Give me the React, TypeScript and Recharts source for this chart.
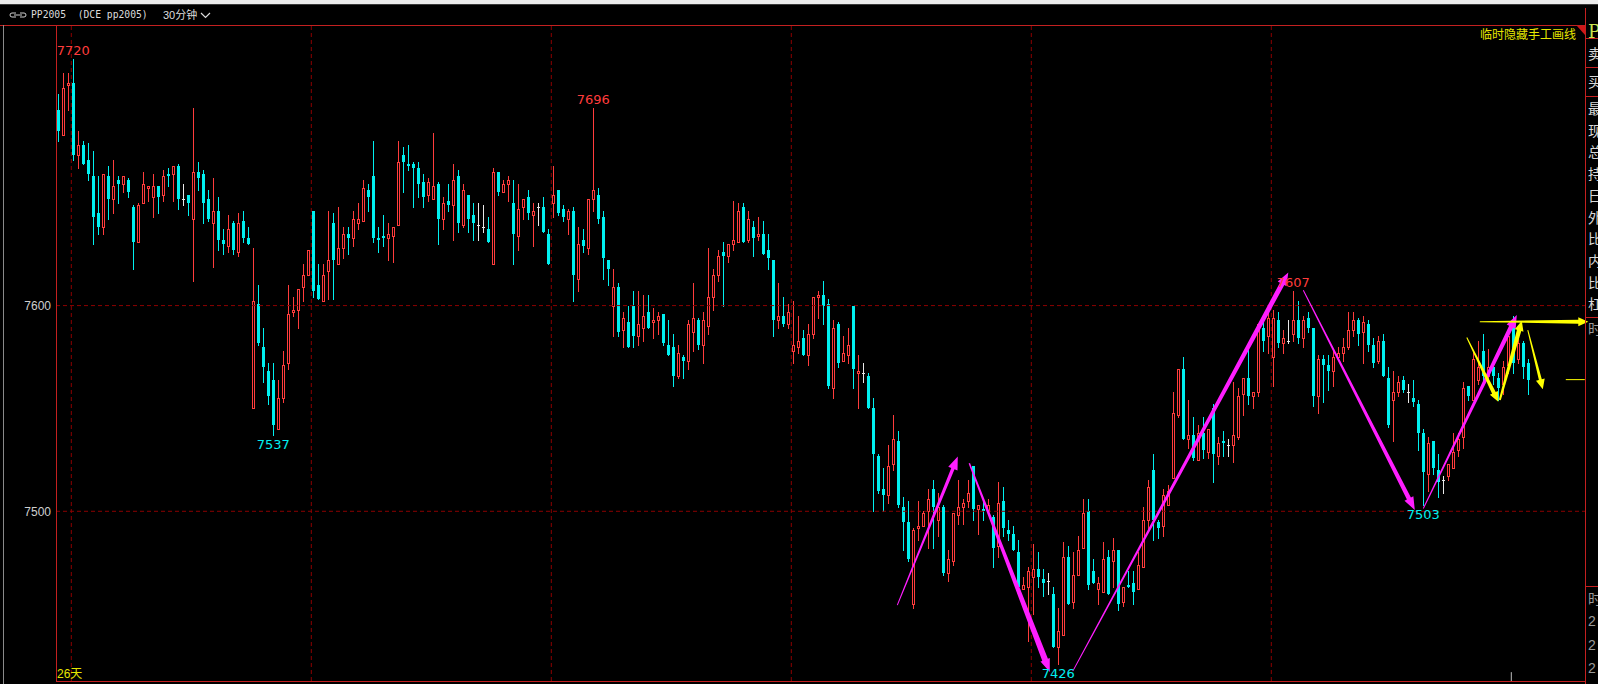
import React from 'react';
import { ComposedChart, Bar, XAxis, YAxis, ReferenceLine, ReferenceDot } from 'recharts';

// PP2005 30-minute bars (oldest first)
const opens = [
  7695, 7683, 7707, 7708, 7673, 7678, 7671, 7663, 7645, 7638,
  7663, 7652, 7661, 7659, 7661, 7648, 7631, 7650, 7657, 7653,
  7658, 7654, 7664, 7664, 7668, 7652, 7654, 7642, 7665, 7664,
  7652, 7640, 7646, 7632, 7629, 7640, 7626, 7641, 7633, 7550,
  7601, 7580, 7568, 7564, 7540, 7555, 7572, 7597, 7598, 7609,
  7615, 7646, 7610, 7602, 7617, 7640, 7620, 7628, 7635, 7633,
  7640, 7641, 7656, 7663, 7633, 7634, 7633, 7634, 7639, 7673,
  7669, 7669, 7667, 7660, 7654, 7652, 7659, 7642, 7651, 7649,
  7663, 7639, 7654, 7644, 7639, 7638, 7637, 7620, 7665, 7655,
  7659, 7650, 7634, 7648, 7653, 7644, 7648, 7648, 7635, 7650,
  7656, 7647, 7642, 7646, 7613, 7632, 7628, 7652, 7654, 7643,
  7622, 7600, 7609, 7588, 7592, 7600, 7585, 7589, 7597, 7592,
  7593, 7596, 7581, 7580, 7566, 7575, 7573, 7587, 7593, 7581,
  7590, 7604, 7615, 7626, 7624, 7630, 7631, 7648, 7632, 7638,
  7634, 7635, 7627, 7622, 7593, 7595, 7591, 7578, 7580, 7584,
  7576, 7586, 7604, 7605, 7601, 7560, 7591, 7573, 7576, 7600,
  7567, 7567, 7566, 7550, 7527, 7511, 7508, 7523, 7534, 7502,
  7495, 7455, 7492, 7493, 7500, 7511, 7496, 7502, 7470, 7476,
  7498, 7502, 7505, 7522, 7501, 7501, 7500, 7497, 7483, 7505,
  7491, 7489, 7480, 7462, 7463, 7468, 7472, 7467, 7466, 7460,
  7434, 7440, 7478, 7456, 7469, 7482, 7500, 7471, 7462, 7461,
  7478, 7476, 7481, 7456, 7464, 7465, 7462, 7473, 7496, 7520,
  7495, 7493, 7503, 7516, 7547, 7569, 7535, 7537, 7525, 7538,
  7529, 7550, 7527, 7534, 7532, 7532, 7536, 7557, 7565, 7556,
  7558, 7589, 7585, 7575, 7593, 7582, 7583, 7586, 7593, 7584,
  7594, 7589, 7556, 7574, 7571, 7568, 7575, 7577, 7580, 7588,
  7593, 7587, 7591, 7581, 7573, 7583, 7565, 7554, 7558, 7564,
  7558, 7555, 7552, 7538, 7518, 7534, 7520, 7515, 7517, 7521,
  7530, 7536, 7561, 7554, 7564, 7578, 7566, 7570, 7565, 7562,
  7571, 7591, 7574, 7582, 7572,
];

const highs = [
  7703, 7713, 7713, 7720, 7685, 7680, 7679, 7675, 7663, 7664,
  7668, 7671, 7663, 7663, 7662, 7649, 7650, 7665, 7658, 7664,
  7658, 7666, 7667, 7668, 7669, 7659, 7654, 7696, 7670, 7666,
  7656, 7662, 7653, 7637, 7644, 7641, 7645, 7646, 7638, 7628,
  7610, 7589, 7572, 7572, 7564, 7578, 7610, 7604, 7608, 7620,
  7627, 7646, 7620, 7620, 7646, 7645, 7648, 7638, 7638, 7646,
  7650, 7661, 7659, 7680, 7638, 7644, 7640, 7638, 7680, 7677,
  7678, 7670, 7670, 7664, 7662, 7684, 7660, 7653, 7659, 7669,
  7666, 7659, 7654, 7650, 7650, 7649, 7643, 7667, 7665, 7661,
  7663, 7661, 7659, 7652, 7656, 7650, 7650, 7653, 7637, 7668,
  7656, 7649, 7647, 7648, 7638, 7637, 7652, 7696, 7657, 7646,
  7622, 7618, 7611, 7597, 7600, 7607, 7607, 7605, 7605, 7599,
  7597, 7596, 7593, 7586, 7581, 7576, 7593, 7611, 7594, 7597,
  7628, 7618, 7627, 7631, 7630, 7651, 7650, 7650, 7646, 7641,
  7643, 7641, 7635, 7622, 7611, 7604, 7601, 7602, 7595, 7588,
  7591, 7604, 7607, 7612, 7603, 7593, 7592, 7585, 7589, 7600,
  7576, 7572, 7567, 7555, 7528, 7521, 7532, 7547, 7539, 7507,
  7505, 7492, 7505, 7500, 7511, 7515, 7509, 7503, 7481, 7499,
  7515, 7506, 7515, 7522, 7503, 7506, 7506, 7498, 7514, 7512,
  7496, 7493, 7486, 7468, 7473, 7484, 7480, 7472, 7470, 7463,
  7453, 7485, 7483, 7480, 7488, 7506, 7506, 7477, 7468, 7485,
  7481, 7487, 7481, 7463, 7471, 7471, 7480, 7502, 7515, 7528,
  7496, 7511, 7513, 7558, 7569, 7575, 7554, 7546, 7542, 7546,
  7540, 7552, 7536, 7539, 7535, 7563, 7560, 7565, 7579, 7558,
  7591, 7593, 7597, 7598, 7597, 7588, 7593, 7607, 7602, 7595,
  7597, 7589, 7576, 7576, 7576, 7579, 7580, 7584, 7597, 7597,
  7594, 7595, 7593, 7584, 7585, 7586, 7570, 7568, 7566, 7566,
  7562, 7564, 7554, 7540, 7536, 7534, 7528, 7517, 7523, 7538,
  7538, 7563, 7561, 7578, 7583, 7586, 7579, 7572, 7567, 7573,
  7588, 7595, 7587, 7583, 7574,
];

const lows = [
  7680, 7683, 7695, 7671, 7667, 7669, 7661, 7630, 7635, 7635,
  7642, 7645, 7650, 7655, 7653, 7618, 7631, 7650, 7651, 7643,
  7645, 7651, 7658, 7651, 7647, 7649, 7644, 7612, 7656, 7640,
  7641, 7619, 7627, 7625, 7626, 7625, 7624, 7631, 7630, 7550,
  7581, 7563, 7552, 7537, 7540, 7553, 7569, 7595, 7589, 7602,
  7615, 7604, 7603, 7602, 7603, 7603, 7620, 7623, 7625, 7629,
  7637, 7641, 7646, 7631, 7626, 7629, 7622, 7621, 7639, 7655,
  7666, 7648, 7653, 7648, 7651, 7652, 7630, 7637, 7646, 7632,
  7636, 7638, 7636, 7632, 7632, 7636, 7631, 7620, 7654, 7655,
  7651, 7620, 7627, 7642, 7642, 7629, 7639, 7636, 7620, 7643,
  7644, 7641, 7635, 7602, 7607, 7626, 7625, 7646, 7640, 7613,
  7610, 7585, 7585, 7580, 7580, 7580, 7581, 7583, 7589, 7584,
  7586, 7581, 7576, 7561, 7565, 7565, 7569, 7578, 7579, 7572,
  7586, 7598, 7612, 7600, 7621, 7627, 7631, 7631, 7631, 7624,
  7632, 7625, 7618, 7585, 7589, 7590, 7589, 7572, 7577, 7576,
  7571, 7584, 7594, 7591, 7560, 7555, 7570, 7573, 7572, 7560,
  7550, 7563, 7550, 7500, 7509, 7500, 7504, 7520, 7502, 7481,
  7476, 7453, 7486, 7493, 7482, 7482, 7488, 7469, 7466, 7474,
  7494, 7494, 7502, 7496, 7489, 7496, 7500, 7473, 7478, 7488,
  7486, 7481, 7463, 7462, 7437, 7450, 7463, 7459, 7460, 7434,
  7426, 7440, 7455, 7453, 7469, 7482, 7462, 7465, 7455, 7461,
  7460, 7463, 7452, 7454, 7463, 7455, 7462, 7473, 7491, 7486,
  7487, 7488, 7503, 7516, 7546, 7535, 7531, 7525, 7525, 7526,
  7526, 7514, 7523, 7527, 7527, 7524, 7535, 7547, 7552, 7550,
  7556, 7578, 7577, 7561, 7580, 7577, 7582, 7583, 7582, 7580,
  7587, 7551, 7548, 7553, 7559, 7561, 7575, 7573, 7579, 7585,
  7581, 7572, 7578, 7570, 7572, 7566, 7541, 7534, 7556, 7558,
  7553, 7551, 7530, 7503, 7510, 7518, 7507, 7509, 7515, 7521,
  7527, 7531, 7554, 7554, 7562, 7564, 7563, 7562, 7554, 7557,
  7567, 7567, 7572, 7565, 7557,
];

const closes = [
  7685, 7706, 7708, 7673, 7678, 7669, 7664, 7643, 7638, 7664,
  7652, 7658, 7659, 7663, 7655, 7631, 7649, 7659, 7658, 7658,
  7653, 7663, 7663, 7668, 7652, 7652, 7650, 7665, 7662, 7650,
  7642, 7646, 7632, 7630, 7637, 7627, 7640, 7633, 7630, 7602,
  7582, 7570, 7556, 7542, 7555, 7571, 7596, 7598, 7608, 7615,
  7627, 7607, 7603, 7615, 7622, 7622, 7628, 7635, 7633, 7642,
  7642, 7657, 7653, 7633, 7632, 7633, 7635, 7638, 7670, 7670,
  7668, 7667, 7659, 7653, 7660, 7658, 7642, 7650, 7649, 7661,
  7640, 7656, 7642, 7640, 7639, 7638, 7631, 7665, 7655, 7659,
  7661, 7635, 7647, 7652, 7645, 7646, 7648, 7636, 7620, 7654,
  7645, 7643, 7646, 7615, 7630, 7629, 7652, 7656, 7642, 7623,
  7618, 7609, 7587, 7594, 7580, 7585, 7591, 7595, 7589, 7593,
  7595, 7582, 7576, 7566, 7577, 7573, 7591, 7594, 7581, 7593,
  7604, 7615, 7624, 7624, 7630, 7632, 7646, 7631, 7642, 7633,
  7635, 7625, 7623, 7593, 7595, 7591, 7597, 7581, 7583, 7576,
  7586, 7604, 7605, 7600, 7561, 7589, 7572, 7577, 7581, 7569,
  7568, 7567, 7550, 7528, 7510, 7508, 7522, 7535, 7503, 7495,
  7477, 7491, 7493, 7499, 7506, 7502, 7502, 7470, 7477, 7499,
  7502, 7504, 7509, 7501, 7503, 7500, 7503, 7482, 7504, 7492,
  7489, 7481, 7463, 7464, 7471, 7472, 7468, 7465, 7466, 7434,
  7442, 7478, 7455, 7469, 7481, 7499, 7464, 7465, 7465, 7477,
  7460, 7481, 7455, 7463, 7463, 7461, 7474, 7496, 7512, 7496,
  7492, 7508, 7510, 7548, 7569, 7535, 7537, 7526, 7538, 7530,
  7540, 7528, 7533, 7533, 7532, 7537, 7556, 7565, 7556, 7558,
  7591, 7583, 7594, 7594, 7582, 7584, 7583, 7593, 7584, 7593,
  7589, 7556, 7574, 7571, 7568, 7575, 7577, 7580, 7588, 7593,
  7586, 7592, 7581, 7572, 7583, 7566, 7542, 7558, 7563, 7559,
  7558, 7553, 7538, 7519, 7533, 7521, 7514, 7515, 7523, 7529,
  7535, 7560, 7556, 7574, 7570, 7566, 7570, 7566, 7560, 7570,
  7585, 7572, 7582, 7570, 7564,
];

const priceTicks = [7500, 7600];
// session boundaries, in bar-index units
const dayBreaks = [2.6, 50.6, 98.6, 146.6, 194.6, 242.6];
const currentDayTick = 290.6;

// bars whose high / low got a price tag on the chart
const highTags = [3, 107, 247];
const lowTags = [43, 200, 273];

// hand-drawn arrows: [barIndex, price] -> [barIndex, price]
const magentaArrows = [
  [[167.8, 7454.4], [179.9, 7526.6]],
  [[182.2, 7523.4], [198.3, 7421.9]],
  [[202.9, 7422.3], [246.0, 7616.1]],
  [[249.0, 7607.5], [271.3, 7500.6]],
  [[273.0, 7501.4], [291.7, 7595.4]],
];
const yellowArrows = [
  [[281.7, 7584.5], [288.0, 7553.2]],
  [[288.3, 7554.1], [292.7, 7592.6]],
  [[293.9, 7588.1], [296.9, 7559.3]],
  [[284.3, 7592.2], [306.0, 7592.2]],
];
const magentaWidths = [[1, 3.5], [1.5, 6], [1, 5], [1, 4.5], [1, 4.5]];
const yellowWidths = [[1, 4], [2, 4.5], [1, 3], [1, 4]];

const UP = '#ff3c3c';
const DOWN = '#00f0f0';
const DOJI = '#e8e8e8';
const FRAME = '#c42020';
const GRID = '#8c0000';
const MAGENTA = '#ff1eff';
const YELLOW = '#ffff00';

const data = opens.map((o, i) => ({ i, o, h: highs[i], l: lows[i], c: closes[i] }));

function Candle(props: any) {
  const { x, y, width, height, payload } = props;
  if (!payload || x == null) return null;
  const { o, h, l, c } = payload;
  const top0 = Math.min(y, y + height);
  const span = Math.abs(height);
  const k = h > l ? span / (h - l) : 0;
  const yOf = (v: number) => top0 + (h - v) * k;
  const cx = Math.floor(x + width / 2);
  const yh = Math.round(top0);
  const yl = Math.round(top0 + span);
  const bTop = Math.round(yOf(Math.max(o, c)));
  const bBot = Math.round(yOf(Math.min(o, c)));
  const wx = cx + 0.5;
  if (o === c) {
    return (
      <g shapeRendering="crispEdges">
        <line x1={wx} x2={wx} y1={yh} y2={yl + 1} stroke={DOJI} />
        <rect x={cx - 1} y={bTop} width={3} height={1} fill={DOJI} />
      </g>
    );
  }
  if (c > o) {
    return (
      <g shapeRendering="crispEdges">
        {bTop > yh && <line x1={wx} x2={wx} y1={yh} y2={bTop} stroke={UP} />}
        {yl > bBot && <line x1={wx} x2={wx} y1={bBot + 1} y2={yl + 1} stroke={UP} />}
        {bBot - bTop >= 2 ? (
          <rect x={cx - 0.5} y={bTop + 0.5} width={2} height={bBot - bTop} fill="#000" stroke={UP} />
        ) : (
          <rect x={cx - 1} y={bTop} width={3} height={Math.max(bBot - bTop + 1, 1)} fill={UP} />
        )}
      </g>
    );
  }
  return (
    <g shapeRendering="crispEdges">
      <line x1={wx} x2={wx} y1={yh} y2={yl + 1} stroke={DOWN} />
      <rect x={cx - 1} y={bTop} width={3} height={Math.max(bBot - bTop, 1)} fill={DOWN} />
    </g>
  );
}

function taperArrow(color: string, w0: number, w1: number, headLen: number, headW: number) {
  return (p: any) => {
    const { x1, y1, x2, y2 } = p;
    const dx = x2 - x1;
    const dy = y2 - y1;
    const len = Math.hypot(dx, dy) || 1;
    const ux = dx / len;
    const uy = dy / len;
    const nx = -uy;
    const ny = ux;
    const bx = x2 - ux * headLen;
    const by = y2 - uy * headLen;
    const pts = [
      [x1 + (nx * w0) / 2, y1 + (ny * w0) / 2],
      [bx + (nx * w1) / 2, by + (ny * w1) / 2],
      [bx + (nx * headW) / 2, by + (ny * headW) / 2],
      [x2, y2],
      [bx - (nx * headW) / 2, by - (ny * headW) / 2],
      [bx - (nx * w1) / 2, by - (ny * w1) / 2],
      [x1 - (nx * w0) / 2, y1 - (ny * w0) / 2],
    ];
    return <polygon points={pts.map((q) => q.join(',')).join(' ')} fill={color} />;
  };
}

function priceTag(text: string, color: string, dy: number) {
  return (p: any) => (
    <text x={p.cx} y={p.cy + dy} fill={color} fontSize={13} fontFamily="DejaVu Sans" textAnchor="middle">
      {text}
    </text>
  );
}

const sideChars = ['最', '现', '总', '持', '日', '外', '比', '内', '比', '杠'];

export default function App() {
  const lastClose = closes[closes.length - 1];
  return (
    <div
      style={{
        position: 'absolute',
        left: 0,
        top: 0,
        width: 1598,
        height: 684,
        background: '#000',
        overflow: 'hidden',
        fontFamily: 'Liberation Sans, sans-serif',
      }}
    >
      {/* title strip */}
      <div style={{ position: 'absolute', left: 0, top: 0, width: 1598, height: 4, background: '#ececec' }} />
      <div style={{ position: 'absolute', left: 0, top: 4, width: 1598, height: 1, background: '#3a3a3a' }} />
      <svg style={{ position: 'absolute', left: 8, top: 11 }} width={22} height={10}>
        <path d="M8 2 H4 a2 2 0 0 0 0 4 H8 M12 2 H16 a2 2 0 0 1 0 4 H12 M6 4 H14" stroke="#cfcfcf" fill="none" strokeWidth={1} />
      </svg>
      <div style={{ position: 'absolute', left: 31, top: 9, color: '#dcdcdc', fontSize: 9.7, fontFamily: 'DejaVu Sans Mono', whiteSpace: 'pre', lineHeight: '12px' }}>
        PP2005  (DCE pp2005)
      </div>
      <div style={{ position: 'absolute', left: 163, top: 8, color: '#dcdcdc', fontSize: 11, fontFamily: 'Liberation Sans', lineHeight: '13px', whiteSpace: 'pre' }}>
        30<span style={{ fontFamily: 'Noto Sans CJK SC' }}>分钟</span>
      </div>
      <svg style={{ position: 'absolute', left: 200, top: 12 }} width={12} height={8}>
        <polyline points="1,1 5.5,5.5 10,1" stroke="#dcdcdc" fill="none" strokeWidth={1.2} />
      </svg>

      <div style={{ position: 'absolute', left: 0, top: 0 }}>
        <ComposedChart width={1598} height={684} data={data} margin={{ top: 25, right: 13, bottom: 3, left: 0 }}>
          <XAxis type="number" dataKey="i" domain={[-0.46, 305.34]} hide allowDataOverflow />
          <YAxis
            type="number"
            domain={[7417.5, 7736.4]}
            ticks={priceTicks}
            width={56}
            axisLine={false}
            tickLine={false}
            tickSize={3}
            tickMargin={2}
            allowDataOverflow
            tick={{ fill: '#cfcfcf', fontSize: 12, fontFamily: 'Liberation Sans' }}
          />
          {priceTicks.map((p) => (
            <ReferenceLine key={'h' + p} y={p} stroke={GRID} strokeDasharray="4 3" />
          ))}
          {dayBreaks.map((d) => (
            <ReferenceLine key={'v' + d} x={d} stroke={GRID} strokeDasharray="4 3" />
          ))}
          <ReferenceLine
            segment={[{ x: currentDayTick, y: 7417.5 }, { x: currentDayTick, y: 7421.8 }]}
            stroke="#bdbdbd"
            ifOverflow="visible"
          />
          <Bar dataKey={(d: any) => [d.l, d.h]} barSize={3} isAnimationActive={false} shape={(p: any) => <Candle {...p} />} />
          {highTags.map((i) => (
            <ReferenceDot key={'ht' + i} x={i} y={highs[i]} ifOverflow="visible" shape={priceTag(String(highs[i]), UP, -4)} />
          ))}
          {lowTags.map((i) => (
            <ReferenceDot key={'lt' + i} x={i} y={lows[i]} ifOverflow="visible" shape={priceTag(String(lows[i]), DOWN, 14)} />
          ))}
          <ReferenceLine
            segment={[{ x: 301.5, y: lastClose }, { x: 305.3, y: lastClose }]}
            stroke={YELLOW}
            ifOverflow="visible"
          />
          {magentaArrows.map((a, k) => (
            <ReferenceLine
              key={'m' + k}
              segment={[{ x: a[0][0], y: a[0][1] }, { x: a[1][0], y: a[1][1] }]}
              ifOverflow="visible"
              shape={taperArrow(MAGENTA, magentaWidths[k][0], magentaWidths[k][1], 13, 10)}
            />
          ))}
          {yellowArrows.map((a, k) => (
            <ReferenceLine
              key={'y' + k}
              segment={[{ x: a[0][0], y: a[0][1] }, { x: a[1][0], y: a[1][1] }]}
              ifOverflow="visible"
              shape={taperArrow(YELLOW, yellowWidths[k][0], yellowWidths[k][1], 10, 9)}
            />
          ))}
        </ComposedChart>
      </div>

      {/* panel frame */}
      <div style={{ position: 'absolute', left: 0, top: 25, width: 1585, height: 1, background: FRAME }} />
      <div style={{ position: 'absolute', left: 56, top: 25, width: 1, height: 657, background: FRAME }} />
      <div style={{ position: 'absolute', left: 56, top: 681, width: 1529, height: 1, background: FRAME }} />
      <div style={{ position: 'absolute', left: 3, top: 25, width: 1, height: 659, background: '#8a8a8a' }} />
      <svg style={{ position: 'absolute', left: 1576, top: 26 }} width={10} height={10}>
        <polygon points="1,0 9,0 9,9" fill="#d01818" />
      </svg>

      <div style={{ position: 'absolute', left: 57, top: 664, color: '#e6e600', fontSize: 12, whiteSpace: 'pre' }}>
        26<span style={{ fontFamily: 'Noto Sans CJK SC' }}>天</span>
      </div>
      <div style={{ position: 'absolute', left: 1480, top: 26, color: '#e6e600', fontSize: 12, fontFamily: 'Noto Sans CJK SC', lineHeight: '15px' }}>
        临时隐藏手工画线
      </div>

      {/* quote panel on the right, mostly cut off */}
      <div style={{ position: 'absolute', left: 1585, top: 8, width: 1, height: 676, background: FRAME }} />
      {[38, 67, 96, 317, 586].map((y) => (
        <div key={'r' + y} style={{ position: 'absolute', left: 1585, top: y, width: 13, height: 1, background: FRAME }} />
      ))}
      <div style={{ position: 'absolute', left: 1588, top: 21, color: '#c8e650', fontSize: 18, fontFamily: 'DejaVu Serif', lineHeight: '22px' }}>P</div>
      <div style={{ position: 'absolute', left: 1588, top: 45, color: '#d8d8d8', fontSize: 14, fontFamily: 'Noto Sans CJK SC', lineHeight: '16px' }}>卖</div>
      <div style={{ position: 'absolute', left: 1588, top: 73, color: '#d8d8d8', fontSize: 14, fontFamily: 'Noto Sans CJK SC', lineHeight: '16px' }}>买</div>
      {sideChars.map((ch, k) => (
        <div
          key={'s' + k}
          style={{ position: 'absolute', left: 1588, top: 100 + k * 21.7, color: '#d8d8d8', fontSize: 14, fontFamily: 'Noto Sans CJK SC', lineHeight: '16px' }}
        >
          {ch}
        </div>
      ))}
      <div style={{ position: 'absolute', left: 1588, top: 320, color: '#9a9a9a', fontSize: 14, fontFamily: 'Noto Sans CJK SC', lineHeight: '16px' }}>时</div>
      <div style={{ position: 'absolute', left: 1588, top: 590, color: '#9a9a9a', fontSize: 14, fontFamily: 'Noto Sans CJK SC', lineHeight: '16px' }}>时</div>
      {[613, 637, 660].map((t) => (
        <div key={'n' + t} style={{ position: 'absolute', left: 1588, top: t, color: '#9a9a9a', fontSize: 14, fontFamily: 'Liberation Sans', lineHeight: '16px' }}>
          2
        </div>
      ))}
    </div>
  );
}
